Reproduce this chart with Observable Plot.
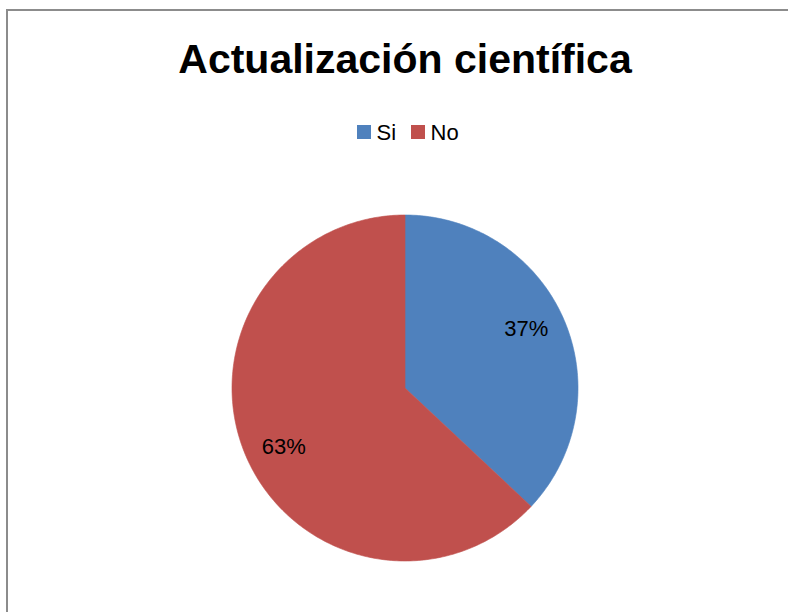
<!DOCTYPE html>
<html>
<head>
<meta charset="utf-8">
<script src="https://cdn.jsdelivr.net/npm/d3@7"></script>
<script src="https://cdn.jsdelivr.net/npm/@observablehq/plot@0.6"></script>
<style>
  html, body { margin: 0; padding: 0; background: #fff; width: 788px; height: 612px; overflow: hidden; }
  #frame { position: absolute; left: 6px; top: 9px; width: 900px; height: 800px;
           border-top: 2px solid #8c8c8c; border-left: 2px solid #8c8c8c; }
  #chart { position: absolute; left: 0; top: 0; }
</style>
</head>
<body>
<div id="frame"></div>
<div id="chart"></div>
<script>
// ---- data ----
const title = "Actualización científica";
const categories = ["Si", "No"];
const values = [37, 63];
const labels = ["37%", "63%"];
const colors = ["#4F81BD", "#C0504D"];

// ---- layout ----
const W = 788, H = 612;
const cx = 404.5, cy = 387.5, R = 173;
const font = "'Liberation Sans', Arial, sans-serif";

const rows = categories.map((c, i) => ({cat: c, value: values[i], label: labels[i]}));
const arcs = d3.pie().sort(null).value(d => d.value)(rows);

// slice outlines from pie angles (0 = 12 o'clock, clockwise)
const pts = [];
for (const a of arcs) {
  const n = Math.max(2, Math.ceil((a.endAngle - a.startAngle) / (2 * Math.PI) * 400));
  pts.push({cat: a.data.cat, x: cx, y: cy});
  for (let k = 0; k <= n; k++) {
    const t = a.startAngle + (a.endAngle - a.startAngle) * k / n;
    pts.push({cat: a.data.cat, x: cx + R * Math.sin(t), y: cy - R * Math.cos(t)});
  }
  pts.push({cat: a.data.cat, x: cx, y: cy});
}

const labelPts = arcs.map(a => {
  const m = (a.startAngle + a.endAngle) / 2 - 0.045;
  return {text: a.data.label, x: cx + 0.78 * R * Math.sin(m), y: cy - 0.78 * R * Math.cos(m)};
});

// legend
const legendX = [357, 411];
const legend = categories.map((c, i) => ({cat: c, x1: legendX[i], x2: legendX[i] + 14, y1: 125, y2: 139, tx: legendX[i] + 19, ty: 139.5}));

const chart = Plot.plot({
  width: W, height: H,
  margin: 0,
  style: {background: "transparent", fontFamily: font},
  x: {domain: [0, W], range: [0, W], axis: null},
  y: {domain: [0, H], range: [0, H], axis: null},
  color: {domain: categories, range: colors},
  marks: [
    Plot.line(pts, {x: "x", y: "y", z: "cat", fill: "cat", stroke: "cat", strokeWidth: 0.6, curve: "linear"}),
    Plot.text(labelPts, {x: "x", y: "y", text: "text", fontSize: 22, fill: "#000", fontFamily: font}),
    Plot.text([title], {x: () => cx, y: () => 72, text: d => d, fontSize: 41, fontWeight: "bold", fill: "#000", lineAnchor: "bottom", fontFamily: font}),
    Plot.rect(legend, {x1: "x1", x2: "x2", y1: "y1", y2: "y2", fill: "cat"}),
    Plot.text(legend, {x: "tx", y: "ty", text: "cat", textAnchor: "start", lineAnchor: "bottom", fontSize: 22, fill: "#000", fontFamily: font})
  ]
});
document.getElementById("chart").appendChild(chart);
</script>
</body>
</html>
